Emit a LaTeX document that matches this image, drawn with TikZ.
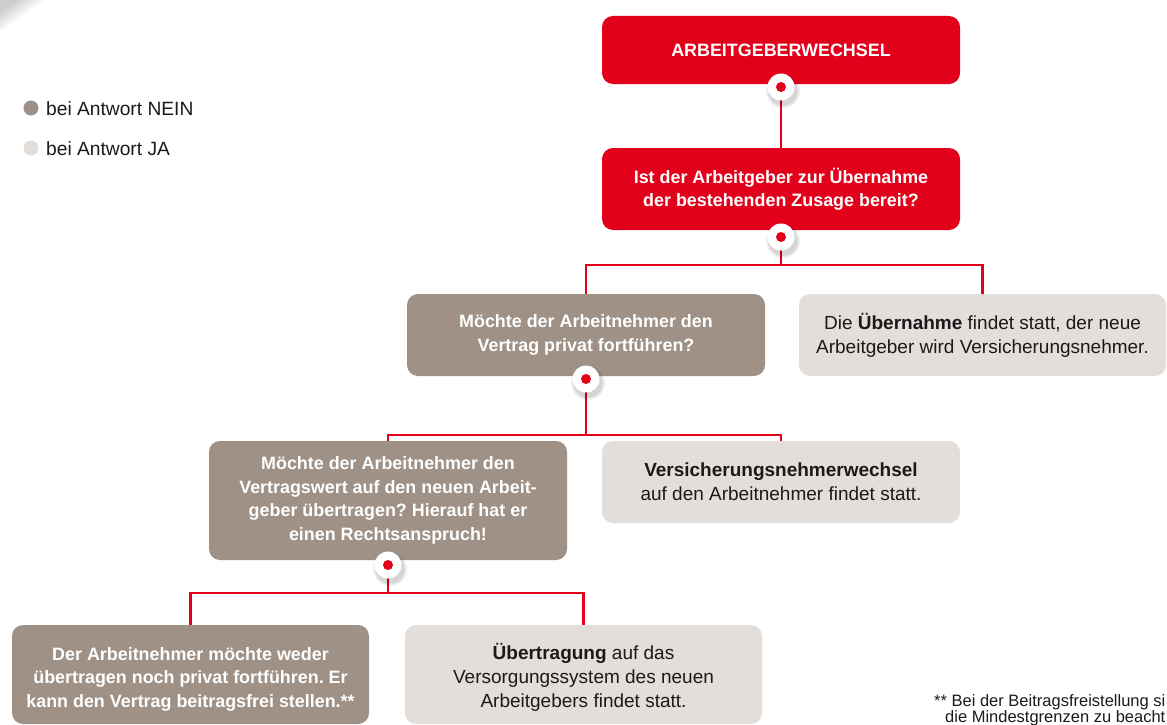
\documentclass[tikz,border=0pt]{standalone}
\usepackage{fontspec}
\setmainfont{Liberation Sans}
\usetikzlibrary{backgrounds}
\frenchspacing
\definecolor{dvred}{HTML}{E2001A}
\definecolor{dvbrown}{HTML}{9F9186}
\definecolor{dvlight}{HTML}{E4DEDB}
\definecolor{dvtext}{HTML}{1A1A1A}
\tikzset{
  box/.style={rounded corners=11pt, minimum width=358pt, align=center, inner sep=0pt},
  redbox/.style={box, fill=dvred, text=white, font=\frenchspacing\bfseries\fontsize{17.9}{23}\selectfont},
  brownbox/.style={box, fill=dvbrown, text=white, font=\frenchspacing\bfseries\fontsize{17.9}{23.5}\selectfont},
  lightbox/.style={box, fill=dvlight, text=dvtext, font=\frenchspacing\fontsize{19}{24}\selectfont},
  conn/.style={draw=dvred, line width=2.3pt},
  dotc/.style={circle, fill=white, minimum size=27pt, inner sep=0pt,
    path picture={\fill[dvred] (path picture bounding box.center) circle (5pt);}},
  legdot/.style={circle, minimum size=15pt, inner sep=0pt},
  legtext/.style={anchor=west, inner sep=0pt, text=dvtext, font=\fontsize{19.2}{22}\selectfont},
  foot/.style={anchor=base west, inner sep=0pt, text=dvtext, font=\fontsize{16.5}{18}\selectfont},
  dotshadow/.style={fill=black, opacity=0.06},
}
\newcommand{\dvpush}{\rule{0pt}{22pt}}
\begin{document}
\begin{tikzpicture}[x=1pt, y=-1pt]
\useasboundingbox (0,0) rectangle (1167,725);
\clip (0,0) rectangle (1167,725);
% corner shadow
\foreach \k in {1,...,6} {
  \fill[black, opacity=0.035] (0,0) -- ({14+5*\k},0) -- (0,{10+3.5*\k}) -- cycle;
}
% legend
\node[legdot, fill=dvbrown] (l1) at (31,108) {};
\node[legtext] (lt1) at (46,109) {bei Antwort NEIN};
\node[legdot, fill=dvlight] (l2) at (31,148) {};
\node[legtext] (lt2) at (46,149) {bei Antwort JA};
% boxes
\node[redbox, minimum height=68pt] (b1) at (781,50) {ARBEITGEBERWECHSEL};
\node[redbox, minimum height=82pt] (b2) at (781,189)
  {Ist der Arbeitgeber zur Übernahme\\der bestehenden Zusage bereit?};
\node[brownbox, minimum height=82pt] (b3) at (586,335)
  {Möchte der Arbeitnehmer den\\Vertrag privat fortführen?};
\node[lightbox, minimum height=82pt, minimum width=367pt] (b4) at (982.5,335)
  {Die \textbf{Übernahme} findet statt, der neue\\Arbeitgeber wird Versicherungsnehmer.};
\node[brownbox, minimum height=119pt] (b5) at (388,500.5)
  {Möchte der Arbeitnehmer den\\Vertragswert auf den neuen Arbeit-\\geber übertragen? Hierauf hat er\\einen Rechtsanspruch!};
\node[lightbox, minimum height=82pt] (b6) at (781,482)
  {\textbf{Versicherungsnehmerwechsel}\\auf den Arbeitnehmer findet statt.};
\node[brownbox, minimum height=99pt, minimum width=357pt] (b7) at (190.5,674.5)
  {\dvpush Der Arbeitnehmer möchte weder\\übertragen noch privat fortführen. Er\\kann den Vertrag beitragsfrei stellen.**};
\node[lightbox, minimum height=99pt, minimum width=357pt] (b8) at (583.5,674.5)
  {\dvpush\textbf{Übertragung} auf das\\Versorgungssystem des neuen\\Arbeitgebers findet statt.};
% junctions
\coordinate (j1) at (781,265);
\coordinate (j2) at (586,435);
\coordinate (j3) at (388,593);
% dot shadows
\foreach \px/\py in {781/87,781/237,586/379,388/565} {
  \fill[dotshadow] (\px+2,\py+4) circle (17pt);
  \fill[dotshadow] (\px+2,\py+4) circle (15.5pt);
  \fill[dotshadow] (\px+2,\py+4) circle (14.5pt);
}
% dots
\node[dotc] (d1) at (781,87) {};
\node[dotc] (d2) at (781,237) {};
\node[dotc] (d3) at (586,379) {};
\node[dotc] (d4) at (388,565) {};
% connectors
\begin{scope}[on background layer]
  \draw[conn] (d1.center) -- (b2.north);
  \draw[conn] (d2.center) -- (j1) -| (b3.north);
  \draw[conn] (j1) -| (b4.north);
  \draw[conn] (d3.center) -- (j2) -| (b5.north);
  \draw[conn] (j2) -| (b6.north);
  \draw[conn] (d4.center) -- (j3) -| (b7.north);
  \draw[conn] (j3) -| (b8.north);
\end{scope}
% footnote
\node[foot] (f1) at (934,706) {** Bei der Beitragsfreistellung si};
\node[foot] (f2) at (945,722) {die Mindestgrenzen zu beacht};
\end{tikzpicture}
\end{document}
